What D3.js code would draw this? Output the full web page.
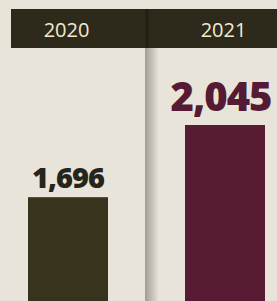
<!DOCTYPE html>
<html>
<head>
<script src="https://d3js.org/d3.v7.min.js"></script>
<style>
  body { margin: 0; background: #e8e4da; }
  svg { display: block; font-family: 'Open Sans', sans-serif; }
</style>
</head>
<body>
<div class="chart"></div>
<script>
const years = ["2020", "2021"];
const values = [1696, 2045];
const barColors = ["#38331d", "#571b33"];
const labelColors = ["#26251c", "#551a34"];
const labelSizes = [29, 40];

const w = 277;
const h = 301;

const svg = d3.select(".chart")
    .append("svg")
    .attr("width", w)
    .attr("height", h);

const defs = svg.append("defs");
const grad = defs.append("linearGradient").attr("id", "fold");
grad.append("stop").attr("offset", "0%").attr("stop-color", "#a19d94");
grad.append("stop").attr("offset", "100%").attr("stop-color", "#e8e4da");

// paper fold shadow
svg.append("rect")
    .attr("x", 145).attr("y", 48)
    .attr("width", 14).attr("height", h - 48)
    .attr("fill", "url(#fold)");

// header band scale
const xHead = d3.scaleBand()
    .domain(years)
    .range([-12, 302]);

const yScale = d3.scaleLinear()
    .domain([0, d3.max(values)])
    .range([548, 125]);

// header
svg.append("rect")
    .attr("x", 11).attr("y", 9)
    .attr("width", w - 11).attr("height", 39)
    .attr("fill", "#2d2a1b");
svg.append("line")
    .attr("x1", 147).attr("x2", 147)
    .attr("y1", 9).attr("y2", 48)
    .attr("stroke", "#221f14").attr("stroke-width", 3);

svg.selectAll(".head")
    .data(years)
    .enter()
    .append("text")
    .attr("class", "head")
    .attr("x", d => xHead(d) + xHead.bandwidth() / 2)
    .attr("y", 37)
    .attr("text-anchor", "middle")
    .attr("fill", "#f2ead0")
    .attr("font-size", 20)
    .attr("font-weight", 500)
    .text(d => d);

// bars
svg.selectAll(".bar")
    .data(values)
    .enter()
    .append("rect")
    .attr("class", "bar")
    .attr("x", (d, i) => [28, 185][i])
    .attr("width", 80)
    .attr("y", d => yScale(d))
    .attr("height", d => yScale(0) - yScale(d))
    .attr("fill", (d, i) => barColors[i]);

// value labels
svg.selectAll(".val")
    .data(values)
    .enter()
    .append("text")
    .attr("class", "val")
    .attr("x", (d, i) => [68, 221][i])
    .attr("y", (d, i) => yScale(d) - (i ? 14 : 9))
    .attr("text-anchor", "middle")
    .attr("fill", (d, i) => labelColors[i])
    .attr("font-size", (d, i) => labelSizes[i])
    .attr("font-weight", 800)
    .attr("letter-spacing", -1)
    .text(d => d3.format(",")(d));
</script>
</body>
</html>
